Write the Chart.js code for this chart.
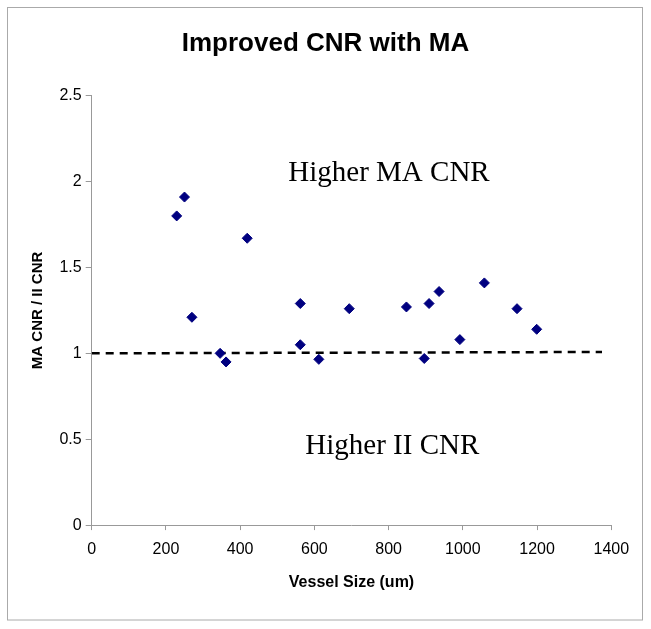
<!DOCTYPE html>
<html>
<head>
<meta charset="utf-8">
<script src="https://cdn.jsdelivr.net/npm/chart.js@4.4.1/dist/chart.umd.min.js"></script>
<style>
  body { margin: 0; background: #fff; }
  #wrap { width: 651px; height: 629px; position: relative; }
</style>
</head>
<body>
<div id="wrap"><canvas id="chart"></canvas></div>
<script>
// vessel size (um) vs ratio of MA CNR to II CNR
const vesselSize = [229, 250, 270, 346, 362, 419, 562, 562, 612, 694, 848, 896, 909, 936, 992, 1058, 1146, 1199];
const cnrRatio = [1.80, 1.91, 1.21, 1.00, 0.95, 1.67, 1.29, 1.05, 0.965, 1.26, 1.27, 0.97, 1.29, 1.36, 1.08, 1.41, 1.26, 1.14];

// dashed reference line (ratio = 1)
const refLineX = [0, 1375];
const refLineY = [1.0, 1.008];

const xTickLabels = ['0', '200', '400', '600', '800', '1000', '1200', '1400'];
const yTickLabels = ['0', '0.5', '1', '1.5', '2', '2.5'];

// region labels, placed in data units
const regionText = ['Higher MA CNR', 'Higher II CNR'];
const regionX = [801, 810];
const regionY = [2.003, 0.412];

const sans = 'Arial, "Liberation Sans", sans-serif';
const axisGray = '#999';

const regionLabels = {
  id: 'regionLabels',
  afterDatasetsDraw(chart) {
    const { ctx, scales: { x, y } } = chart;
    ctx.save();
    ctx.font = '29px "Liberation Serif", "Times New Roman", serif';
    ctx.fillStyle = '#000';
    ctx.textAlign = 'center';
    ctx.textBaseline = 'alphabetic';
    regionText.forEach((t, i) => {
      ctx.fillText(t, x.getPixelForValue(regionX[i]), y.getPixelForValue(regionY[i]));
    });
    ctx.restore();
  }
};

const frame = {
  id: 'frame',
  beforeDraw(chart) {
    const { ctx, width, height } = chart;
    ctx.save();
    ctx.fillStyle = '#fff';
    ctx.fillRect(0, 0, width, height);
    ctx.restore();
  },
  afterDraw(chart) {
    const { ctx } = chart;
    ctx.save();
    ctx.strokeStyle = '#aaa';
    ctx.lineWidth = 1;
    ctx.strokeRect(7.5, 7.5, 635, 612.5);
    ctx.restore();
  }
};

new Chart(document.getElementById('chart'), {
  type: 'scatter',
  data: {
    datasets: [
      {
        label: 'MA CNR / II CNR',
        data: vesselSize.map((v, i) => ({ x: v, y: cnrRatio[i] })),
        pointStyle: 'rectRot',
        pointRadius: 5,
        pointBackgroundColor: '#000080',
        pointBorderColor: '#000080',
        pointBorderWidth: 1,
        order: 1
      },
      {
        label: 'Equal CNR',
        data: refLineX.map((v, i) => ({ x: v, y: refLineY[i] })),
        showLine: true,
        borderColor: '#000',
        borderWidth: 2.5,
        borderDash: [8, 6],
        pointRadius: 0,
        order: 2
      }
    ]
  },
  options: {
    responsive: true,
    maintainAspectRatio: false,
    animation: false,
    layout: { padding: 0 },
    plugins: {
      legend: { display: false },
      tooltip: { enabled: false },
      title: {
        display: true,
        text: 'Improved CNR with MA',
        color: '#000',
        font: { family: sans, size: 26, weight: 'bold' },
        padding: { top: 28.5, bottom: 36 }
      }
    },
    scales: {
      x: {
        type: 'linear',
        min: 0,
        max: 1400,
        afterFit: s => { s.height = 103.9; },
        border: { display: true, color: axisGray, width: 1 },
        grid: { drawOnChartArea: false, drawTicks: true, tickLength: 5, color: axisGray },
        ticks: {
          stepSize: 200,
          color: '#000',
          padding: 10,
          maxRotation: 0,
          font: { family: sans, size: 16 },
          callback: (v, i) => xTickLabels[i]
        },
        title: {
          display: true,
          text: 'Vessel Size (um)',
          color: '#000',
          font: { family: sans, size: 16, weight: 'bold' },
          padding: { top: 0, bottom: 36.4 }
        }
      },
      y: {
        min: 0,
        max: 2.5,
        afterFit: s => { s.width = 91.7; },
        border: { display: true, color: axisGray, width: 1 },
        grid: { drawOnChartArea: false, drawTicks: true, tickLength: 6, color: axisGray },
        ticks: {
          stepSize: 0.5,
          color: '#000',
          padding: 4,
          font: { family: sans, size: 16 },
          callback: (v, i) => yTickLabels[i]
        },
        title: {
          display: true,
          text: 'MA CNR / II CNR',
          color: '#000',
          font: { family: sans, size: 15, weight: 'bold' },
          padding: { top: 29.3, bottom: 0 }
        }
      },
      // empty right-hand margin so the title centres on the whole frame
      yRight: {
        position: 'right',
        display: true,
        min: 0,
        max: 2.5,
        afterFit: s => { s.width = 39.7; },
        border: { display: false },
        grid: { display: false },
        ticks: { display: false }
      }
    }
  },
  plugins: [frame, regionLabels]
});
</script>
</body>
</html>
